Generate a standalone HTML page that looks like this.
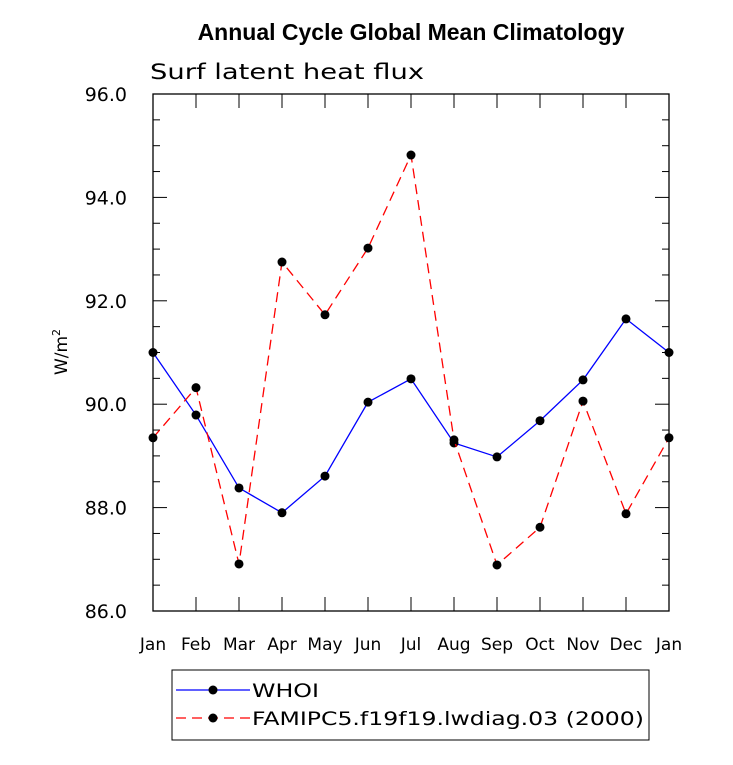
<!DOCTYPE html>
<html><head><meta charset="utf-8"><style>
body{margin:0;background:#fff;}
.ls{font-family:"Liberation Sans",sans-serif;}
.dv{font-family:"DejaVu Sans",sans-serif;}
</style></head><body>
<svg id="chart" width="733" height="760" xmlns="http://www.w3.org/2000/svg">
<text class="ls" x="411" y="40" text-anchor="middle" font-size="23" font-weight="bold">Annual Cycle Global Mean Climatology</text>
<text class="dv" x="150" y="79" font-size="21" textLength="274" lengthAdjust="spacingAndGlyphs">Surf latent heat flux</text>
<text class="dv" transform="translate(67,352) rotate(-90)" text-anchor="middle" font-size="17">W/m<tspan font-size="11" dy="-7">2</tspan></text>
<g id="axes"></g>
<g id="series"></g>
<g>
<rect x="172" y="670" width="477" height="70" fill="none" stroke="#000" stroke-width="1"/>
<line x1="176" y1="690" x2="250" y2="690" stroke="#0000ff" stroke-width="1.3"/>
<circle cx="213" cy="690" r="4.5" fill="#000"/>
<text class="dv" x="252" y="697" font-size="19" textLength="67" lengthAdjust="spacingAndGlyphs">WHOI</text>
<line x1="176" y1="718" x2="250" y2="718" stroke="#ff0000" stroke-width="1.3" stroke-dasharray="10,6"/>
<circle cx="213" cy="718" r="4.5" fill="#000"/>
<text class="dv" x="252" y="725" font-size="19" textLength="392" lengthAdjust="spacingAndGlyphs">FAMIPC5.f19f19.lwdiag.03 (2000)</text>
</g>
</svg>
<script>
const months=["Jan","Feb","Mar","Apr","May","Jun","Jul","Aug","Sep","Oct","Nov","Dec","Jan"];
const whoi=[91.0,89.79,88.38,87.9,88.61,90.04,90.49,89.25,88.98,89.68,90.47,91.65,91.0];
const fam=[89.35,90.32,86.91,92.75,91.73,93.02,94.82,89.31,86.89,87.62,90.06,87.88,89.35];
const yTicks=[86,88,90,92,94,96];
const NS="http://www.w3.org/2000/svg";
const X0=153,X1=669,Y0=611,Y1=94,ymin=86,ymax=96;
const xs=i=>X0+(X1-X0)*i/(months.length-1);
const ys=v=>Y0-(v-ymin)/(ymax-ymin)*(Y0-Y1);
function mk(t,a,p){const e=document.createElementNS(NS,t);for(const k in a)e.setAttribute(k,a[k]);p.appendChild(e);return e;}
const ax=document.getElementById('axes');
const frame=mk('rect',{x:X0,y:Y1,width:X1-X0,height:Y0-Y1,fill:'none',stroke:'#000','stroke-width':1.3},ax);


for(let v=ymin;v<=ymax+1e-9;v+=0.5){
  const major=Math.abs(v-Math.round(v/2)*2)<1e-6;const L=major?14:7;const y=ys(v);
  mk('line',{x1:X0,y1:y,x2:X0+L,y2:y,stroke:'#000','stroke-width':1},ax);
  mk('line',{x1:X1,y1:y,x2:X1-L,y2:y,stroke:'#000','stroke-width':1},ax);
}
yTicks.forEach(v=>{
  const t=mk('text',{x:X0-26,y:ys(v)+7,'text-anchor':'end','font-size':19,class:'dv'},ax);
  t.textContent=v.toFixed(1);
  
  
});
months.forEach((m,i)=>{
  const x=xs(i);
  mk('line',{x1:x,y1:Y0,x2:x,y2:Y0-14,stroke:'#000','stroke-width':1},ax);
  mk('line',{x1:x,y1:Y1,x2:x,y2:Y1+14,stroke:'#000','stroke-width':1},ax);
  const t=mk('text',{x:x,y:Y0+39,'text-anchor':'middle','font-size':17,class:'dv'},ax);
  t.textContent=m;
  
  
});
const sg=document.getElementById('series');
function draw(vals,color,dash,name){
  const g=mk('g',{},sg);
  
  
  const pl=mk('polyline',{points:vals.map((v,i)=>xs(i)+','+ys(v)).join(' '),fill:'none',stroke:color,'stroke-width':1.3,'stroke-dasharray':dash},g);
  
  
  vals.forEach((v,i)=>{
    const c=mk('circle',{cx:xs(i),cy:ys(v),r:4.5,fill:'#000'},g);
    
    
  });
}
draw(whoi,'#0000ff','none','whoi-series');
draw(fam,'#ff0000','10,6','famipc5-series');
</script>
</body></html>
